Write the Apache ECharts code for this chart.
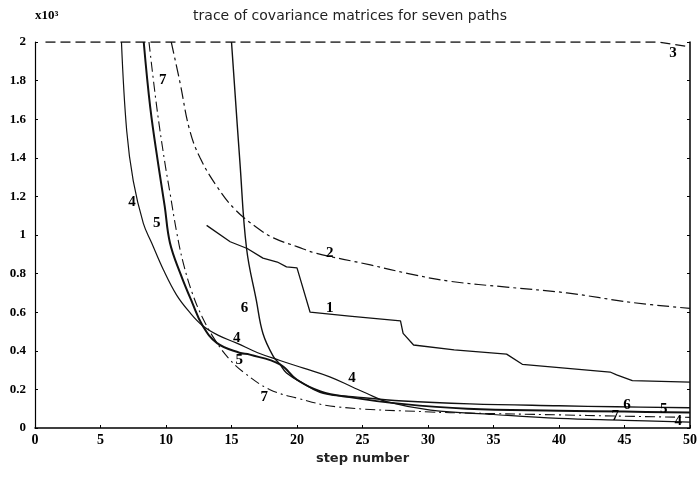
<!DOCTYPE html>
<html>
<head>
<meta charset="utf-8">
<title>trace of covariance matrices</title>
<script src="https://cdn.jsdelivr.net/npm/echarts@6/dist/echarts.min.js"></script>
<style>
  html, body { margin: 0; padding: 0; background: #fff; }
  #chart { width: 700px; height: 484px; }
</style>
</head>
<body>
<div id="chart"></div>
<script>
// values, y in units of 10^3
const path1 = [[13.1, 1.05], [14.9, 0.965], [16.2, 0.93], [17.4, 0.88], [18.5, 0.86], [19.2, 0.835], [20, 0.83],
  [21, 0.6], [24, 0.58], [27.9, 0.555], [28.1, 0.49], [28.9, 0.43], [32, 0.405], [36, 0.383], [37.2, 0.33],
  [43.9, 0.29], [44.4, 0.275], [45.6, 0.245], [50, 0.238]]
const path2 = [[10.4, 2.0], [11.07, 1.79], [11.8, 1.545], [12.6, 1.4], [13.9, 1.25], [15.3, 1.13], [16.9, 1.04],
  [18.2, 0.985], [20, 0.94], [21.5, 0.905], [25.6, 0.845], [28.5, 0.8], [31.7, 0.76], [36, 0.73], [40.6, 0.7],
  [45.6, 0.65], [50, 0.62]]
const path3 = [[0.8, 2.0], [20, 2.0], [40, 2.0], [47.5, 2.0], [50, 1.975]]
const path4 = [[6.6, 2.0], [7, 1.54], [7.5, 1.28], [8.27, 1.06], [8.9, 0.96], [9.8, 0.82], [10.8, 0.69],
  [11.8, 0.6], [12.8, 0.53], [14, 0.48], [15.4, 0.44], [17, 0.39], [18.7, 0.35], [20.5, 0.31], [22.5, 0.265],
  [24.3, 0.21], [25.3, 0.18], [26.9, 0.135], [30.2, 0.093], [35, 0.07], [40, 0.05], [45, 0.04], [50, 0.03]]
const path5 = [[8.3, 2.0], [8.8, 1.66], [9.4, 1.37], [9.9, 1.15], [10.3, 0.96], [11.1, 0.8], [12, 0.65],
  [12.8, 0.53], [13.9, 0.44], [15.6, 0.39], [16.4, 0.38], [18.7, 0.33], [20, 0.25], [21.8, 0.19], [24, 0.16],
  [28, 0.125], [33, 0.1], [40, 0.09], [45, 0.085], [50, 0.08]]
const path6 = [[15, 2.0], [15.65, 1.37], [16.15, 0.93], [16.9, 0.66], [17.4, 0.49], [18.2, 0.37], [18.7, 0.33],
  [19.2, 0.285], [20.5, 0.23], [22, 0.18], [24.6, 0.16], [28.1, 0.14], [33.2, 0.125], [40, 0.115],
  [44.4, 0.11], [50, 0.105]]
const path7 = [[8.7, 2.0], [9.3, 1.66], [9.9, 1.38], [10.3, 1.22], [10.8, 1.02], [11.3, 0.86], [12, 0.7],
  [12.8, 0.57], [13.8, 0.45], [14.8, 0.36], [15.9, 0.29], [17.9, 0.2], [20, 0.155], [23, 0.11], [30.2, 0.083],
  [33.2, 0.077], [40, 0.068], [44.3, 0.062], [50, 0.055]]

// where the path numbers sit on the plot
const labelSpots = {
  1: [[22.5, 0.62]],
  2: [[22.5, 0.905]],
  3: [[48.7, 1.94]],
  4: [[7.4, 1.17], [15.4, 0.465], [24.2, 0.26], [49.1, 0.035]],
  5: [[9.3, 1.06], [15.6, 0.35], [48, 0.1]],
  6: [[16.0, 0.62], [45.2, 0.12]],
  7: [[9.75, 1.8], [17.5, 0.16], [44.3, 0.06]]
}

const paths = [path1, path2, path3, path4, path5, path6, path7]
const dashes = ['solid', [12, 4, 3, 4], [10, 5], 'solid', 'solid', 'solid', [10, 4, 2, 4]]
const widths = [1.3, 1.2, 1.3, 1.2, 2, 1.4, 1.1]
const smooths = [false, 0.4, false, 0.4, 0.4, 0.4, 0.4]

const serif = 'Liberation Serif'

const chart = echarts.init(document.getElementById('chart'))

const series = paths.map((p, i) => ({
  type: 'line',
  name: String(i + 1),
  data: p,
  showSymbol: false,
  smooth: smooths[i],
  lineStyle: { color: '#111', width: widths[i], type: dashes[i] },
  silent: true,
  markPoint: {
    symbol: 'circle',
    symbolSize: 0,
    label: {
      show: true,
      position: 'inside',
      formatter: String(i + 1),
      color: '#000',
      fontFamily: serif,
      fontWeight: 'bold',
      fontSize: 15
    },
    data: labelSpots[i + 1].map(c => ({ coord: c }))
  }
}))

const option = {
  animation: false,
  title: {
    text: 'trace of covariance matrices for seven paths',
    left: 'center',
    top: 4,
    textStyle: { fontFamily: 'DejaVu Sans', fontWeight: 'normal', fontSize: 14, color: '#222' }
  },
  grid: { left: 35, right: 10, top: 42, bottom: 56 },
  xAxis: {
    type: 'value',
    min: 0,
    max: 50,
    interval: 5,
    name: 'step number',
    nameLocation: 'middle',
    nameGap: 21,
    nameTextStyle: { fontFamily: 'DejaVu Sans', fontWeight: 'bold', fontSize: 13, color: '#222' },
    axisLine: { lineStyle: { color: '#000', width: 1.5 } },
    axisTick: { inside: true, length: 3, lineStyle: { color: '#000' } },
    axisLabel: { color: '#000', fontFamily: serif, fontWeight: 'bold', fontSize: 14, margin: 5 },
    splitLine: { show: false }
  },
  yAxis: [{
    type: 'value',
    min: 0,
    max: 2,
    interval: 0.2,
    name: 'x10³',
    nameLocation: 'end',
    nameGap: 20,
    nameTextStyle: { align: 'left', fontFamily: serif, fontWeight: 'bold', fontSize: 13, color: '#000' },
    axisLine: { show: true, lineStyle: { color: '#000', width: 1.2 } },
    axisTick: { show: true, inside: true, length: 3, lineStyle: { color: '#000' } },
    axisLabel: { color: '#000', fontFamily: serif, fontWeight: 'bold', fontSize: 13, margin: 9 },
    splitLine: { show: false }
  }, {
    // right hand frame with its inward ticks
    type: 'value',
    position: 'right',
    min: 0,
    max: 2,
    interval: 0.2,
    axisLine: { show: true, lineStyle: { color: '#000', width: 1.5 } },
    axisTick: { show: true, inside: true, length: 3, lineStyle: { color: '#000' } },
    axisLabel: { show: false },
    splitLine: { show: false }
  }],
  series: series
}

chart.setOption(option)
</script>
</body>
</html>
